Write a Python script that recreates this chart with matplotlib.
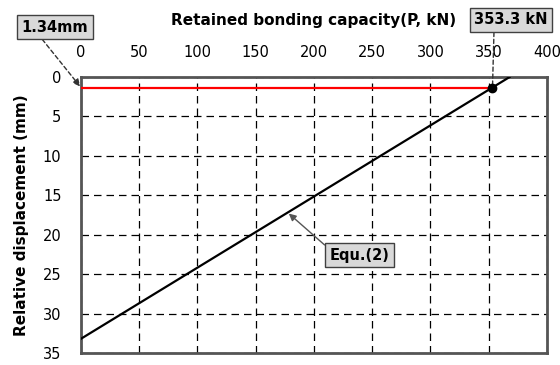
import numpy as np
import matplotlib.pyplot as plt

# Equ.(2) line
capacity = [0, 368]
displacement = [33.2, 0]

p_point = 353.3
d_point = 1.34

xticks = [0, 50, 100, 150, 200, 250, 300, 350, 400]
yticks = [0, 5, 10, 15, 20, 25, 30, 35]

plt.rcParams['font.family'] = ['DejaVu Sans']

fig = plt.figure(figsize=(5.6, 3.65), dpi=100)
ax = fig.add_axes([0.1446, 0.033, 0.832, 0.756])

ax.plot(capacity, displacement, color='black', lw=1.6, zorder=3)
ax.plot([0, p_point], [d_point, d_point], color='red', lw=1.6, zorder=3)
ax.plot([p_point], [d_point], 'o', color='black', ms=6, zorder=4)

ax.set_xlim(0, 400)
ax.set_ylim(35, 0)
ax.set_xticks(xticks)
ax.set_yticks(yticks)
ax.xaxis.tick_top()
ax.xaxis.set_label_position('top')
ax.tick_params(axis='x', length=0, labelsize=10.5, pad=12)
ax.tick_params(axis='y', length=0, labelsize=10.5, pad=14)
ax.grid(True, color='black', ls=(0, (6, 4)), lw=0.9)
for s in ax.spines.values():
    s.set_color('#555555')
    s.set_linewidth(2)

ax.set_xlabel('Retained bonding capacity(P, kN)', fontsize=11, fontweight='bold', labelpad=15)
ax.set_ylabel('Relative displacement (mm)', fontsize=11, fontweight='bold', labelpad=10)

box = dict(boxstyle='square,pad=0.3', fc='#d9d9d9', ec='#404040', lw=1)

ax.annotate('1.34mm', xy=(0, d_point), xycoords='data',
            xytext=(55, 338), textcoords='figure pixels',
            ha='center', va='center', fontsize=10.5, fontweight='bold', bbox=box,
            arrowprops=dict(arrowstyle='-|>', ls=(0, (3, 2)), color='#333333', lw=1,
                            shrinkA=0, shrinkB=1, relpos=(0.25, 0)),
            annotation_clip=False)

ax.annotate('353.3 kN', xy=(p_point, d_point), xycoords='data',
            xytext=(511, 345), textcoords='figure pixels',
            ha='center', va='center', fontsize=10.5, fontweight='bold', bbox=box,
            arrowprops=dict(arrowstyle='-', ls=(0, (3, 2)), color='#333333', lw=1,
                            shrinkA=0, shrinkB=0, relpos=(0.27, 0)),
            annotation_clip=False)

ax.annotate('Equ.(2)', xy=(177.5, 17.2), xycoords='data',
            xytext=(239, 22.6), textcoords='data',
            ha='center', va='center', fontsize=10.5, fontweight='bold', bbox=box,
            arrowprops=dict(arrowstyle='-|>', color='#555555', lw=1,
                            shrinkA=0, shrinkB=1, relpos=(0, 0.9)))

fig.savefig('out.png', dpi=100)
